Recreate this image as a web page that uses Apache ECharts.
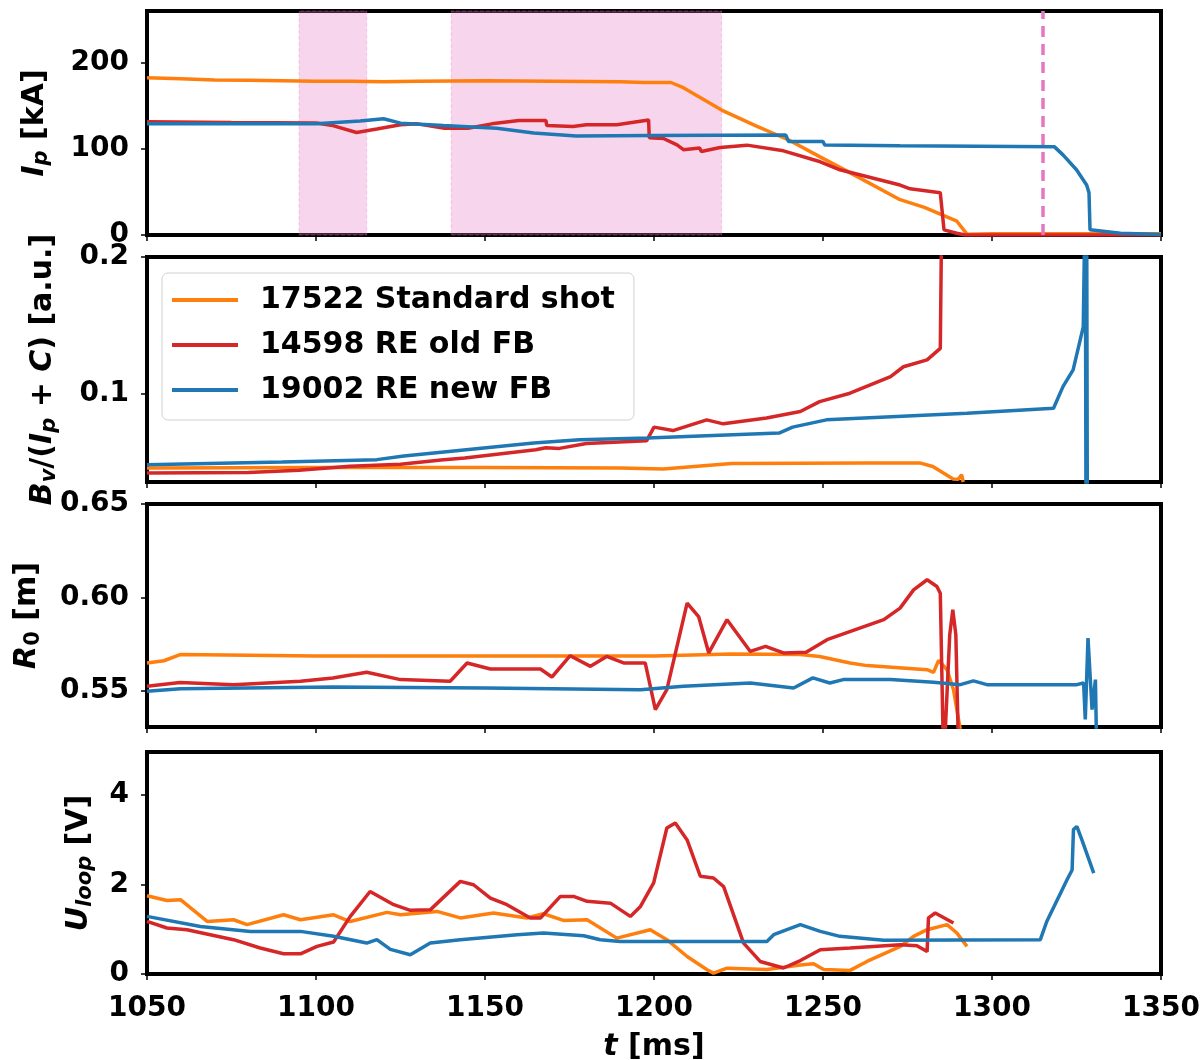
<!DOCTYPE html>
<html lang="en">
<head>
  <meta charset="UTF-8">
  <title>RE shots</title>
  <script src="https://cdn.jsdelivr.net/npm/echarts@6/dist/echarts.min.js"></script>
  <style>
    body { margin: 0; background: #fff; }
    #main { width: 1204px; height: 1060px; }
  </style>
</head>
<body>
  <div id="main"></div>
  <script>
    // time axis, ms
    var tMin = 1050, tMax = 1350, tStep = 50
    var names = ['17522 Standard shot', '14598 RE old FB', '19002 RE new FB']
    var colors = ['#ff7f0e', '#d62728', '#1f77b4']

    // shaded windows and marker in the Ip panel
    var shadeSpans = [[1095, 1115], [1140, 1220]]
    var markerT = 1315

    // y tick labels per panel
    var ipTicks = [0, 100, 200]
    var bvTicks = [0.1, 0.2]
    var r0Ticks = [0.55, 0.60, 0.65]
    var uTicks = [0, 2, 4]

    // Ip [kA]
    var ipStandard = [[1050,182.5],[1060,181.5],[1070,180],[1080,179.5],[1090,179],[1100,178.5],[1110,178.5],[1120,178],[1130,178.5],[1150,179],[1170,178.5],[1190,178],[1197,177],[1205,177],[1208.7,171],[1220,145],[1230,127],[1240,110],[1249,91],[1260,68],[1272.8,41],[1280,32],[1289.6,16],[1292.6,1],[1300,1.5],[1350,1.5]]
    var ipOldFb = [[1050,131.5],[1075,130.5],[1100,130],[1105,127],[1112,119],[1118,123],[1125,128],[1130,129],[1138,124],[1145,124],[1152,129],[1160,132.8],[1168,133],[1168.3,127],[1176,126],[1180,128],[1189,128],[1198.4,133.6],[1198.6,113],[1202.8,112],[1206.8,104.6],[1208.7,99],[1213.5,101],[1214,97],[1219.6,101.5],[1227.5,104.3],[1238.3,97.7],[1249.2,85],[1255,75.7],[1272.8,58],[1275.8,53.6],[1284.7,49],[1285.8,6],[1289.6,2],[1292,0],[1350,0]]
    var ipNewFb = [[1050,129],[1075,129],[1100,129],[1113,132.4],[1120,135],[1125,129.8],[1137.7,127],[1153.5,124],[1164.4,118.5],[1177,115],[1198.9,115.5],[1239,116],[1239.8,108.5],[1250,108.5],[1250.5,104.5],[1272.8,103.5],[1318.5,102.3],[1321,93],[1325,75.7],[1328,58],[1328.7,49],[1329,6],[1338,2],[1350,0.5]]

    // Bv/(Ip+C) [a.u.]
    var bvStandard = [[1050,0.0462],[1100,0.0465],[1150,0.0465],[1190,0.0462],[1202.7,0.0455],[1223,0.0494],[1263,0.0499],[1278.6,0.0499],[1282.5,0.0473],[1288.5,0.0382],[1290,0.038],[1291,0.0413],[1291.5,0.036]]
    var bvOldFb = [[1050,0.0426],[1080,0.043],[1095,0.0445],[1110,0.0475],[1125,0.049],[1137,0.052],[1144,0.0535],[1165,0.0595],[1168,0.061],[1172,0.0605],[1180,0.064],[1197.8,0.066],[1200,0.076],[1205.6,0.0735],[1215.6,0.0813],[1220.5,0.0784],[1233.3,0.0826],[1243.3,0.0874],[1249,0.0946],[1258,0.1007],[1270,0.1128],[1273.8,0.12],[1280.8,0.125],[1284.7,0.1334],[1285.2,0.25]]
    var bvNewFb = [[1050,0.0486],[1090,0.0505],[1118,0.0523],[1126,0.055],[1164.4,0.0644],[1178,0.0668],[1198,0.068],[1237,0.0717],[1241,0.076],[1251,0.0813],[1292.6,0.0862],[1318.2,0.0898],[1321,0.1055],[1324,0.1177],[1327,0.149],[1327.6,0.25],[1327.8,0.02],[1328,0.25],[1328.2,0.02]]

    // R0 [m]
    var r0Standard = [[1050,0.5648],[1055,0.566],[1059.8,0.5693],[1080,0.569],[1100,0.5685],[1150,0.5685],[1200,0.5685],[1223,0.5696],[1243.3,0.5693],[1249,0.5683],[1258,0.5648],[1263,0.5634],[1280.8,0.5612],[1282.7,0.5598],[1284.2,0.5662],[1286.7,0.5612],[1288.6,0.5505],[1291,0.525]]
    var r0OldFb = [[1050,0.5523],[1059.8,0.5544],[1075.6,0.5532],[1095.4,0.555],[1105,0.5568],[1115,0.5598],[1125,0.5559],[1139.7,0.555],[1144.7,0.5648],[1151.6,0.5616],[1166.4,0.5616],[1169.8,0.5573],[1175.2,0.5687],[1181.2,0.563],[1186,0.5683],[1191,0.5648],[1197.4,0.5648],[1200.4,0.5398],[1203.8,0.5505],[1209.8,0.5969],[1213.2,0.5897],[1216.2,0.5702],[1221.6,0.588],[1228.5,0.571],[1233,0.5737],[1238.3,0.5702],[1245,0.5705],[1251.2,0.5773],[1268,0.588],[1272.8,0.5942],[1276.8,0.604],[1280.8,0.6094],[1283.7,0.6058],[1284.7,0.6022],[1285.7,0.51],[1287.5,0.58],[1288.4,0.5933],[1289.3,0.58],[1290.2,0.51]]
    var r0NewFb = [[1050,0.5496],[1059.9,0.551],[1105,0.552],[1150,0.5514],[1196,0.5505],[1208.7,0.5523],[1228.5,0.5541],[1241.3,0.5514],[1247,0.5568],[1252,0.5541],[1256,0.5559],[1270,0.5559],[1282.7,0.5545],[1290.6,0.5532],[1294.5,0.5552],[1298.5,0.5532],[1325.1,0.5532],[1327.1,0.5541],[1327.6,0.5345],[1328.4,0.5782],[1329.6,0.5398],[1330.6,0.5559],[1330.9,0.525]]

    // Uloop [V]
    var uStandard = [[1050,1.746],[1055.9,1.64],[1059.9,1.657],[1067.8,1.173],[1075.6,1.21],[1079.6,1.1],[1090.4,1.32],[1095.4,1.21],[1105.2,1.32],[1110.1,1.17],[1121,1.374],[1125,1.32],[1135.8,1.396],[1142.7,1.25],[1152.5,1.36],[1162.4,1.25],[1167.3,1.344],[1173.2,1.195],[1180.2,1.21],[1189,0.8],[1198.9,0.988],[1203.8,0.765],[1209.8,0.39],[1215.7,0.096],[1217.6,0.02],[1221.6,0.13],[1233.4,0.1],[1243.3,0.2],[1247.2,0.23],[1250.2,0.1],[1258,0.08],[1263,0.28],[1272.9,0.615],[1276.8,0.84],[1280.8,0.988],[1286.7,1.1],[1289.6,0.914],[1292.6,0.615]]
    var uOldFb = [[1050,1.173],[1055.9,1.025],[1061.8,0.988],[1075.6,0.765],[1083.5,0.58],[1090.4,0.453],[1095.4,0.45],[1100.3,0.615],[1105.2,0.713],[1110.1,1.28],[1116,1.84],[1123,1.545],[1127.9,1.42],[1133.8,1.43],[1142.7,2.065],[1146.6,1.99],[1151.6,1.69],[1156.5,1.545],[1163.4,1.25],[1166.4,1.25],[1172.3,1.73],[1176.2,1.73],[1180.2,1.62],[1187.1,1.58],[1193,1.284],[1196,1.507],[1199.9,2.03],[1203.8,3.255],[1206.3,3.367],[1209.8,2.99],[1213.7,2.18],[1217.6,2.14],[1220.6,1.95],[1226.5,0.69],[1231.4,0.28],[1238.3,0.134],[1243.3,0.3],[1249.2,0.54],[1258,0.58],[1272.9,0.65],[1277.8,0.63],[1280.8,0.5],[1281.2,1.25],[1283.2,1.36],[1288.6,1.137]]
    var uNewFb = [[1050,1.285],[1065.8,1.06],[1080.6,0.95],[1095.4,0.95],[1105.2,0.84],[1115,0.69],[1118,0.765],[1122,0.55],[1127.9,0.43],[1133.8,0.69],[1142.7,0.765],[1159.5,0.876],[1167.3,0.914],[1179.2,0.854],[1184.1,0.765],[1190,0.727],[1233.4,0.727],[1235.4,0.876],[1243.3,1.1],[1249.2,0.95],[1255,0.84],[1268,0.75],[1314.3,0.765],[1316.2,1.17],[1322.2,2.1],[1323.7,2.32],[1324.1,3.22],[1325.1,3.29],[1326.6,2.99],[1330.1,2.25]]

    var font = 'DejaVu Sans'
    var panels = [
      { top: 11,  height: 224, min: 0,      max: 260,  ticks: ipTicks, dec: 0, gap: 95,
        name: '{it|I}{subit|p} [kA]', data: [ipStandard, ipOldFb, ipNewFb] },
      { top: 257, height: 225, min: 0.036,  max: 0.2,  ticks: bvTicks, dec: 1, gap: 87,
        name: '{it|B}{subit|v}/({it|I}{subit|p} + {it|C}) [a.u.]', data: [bvStandard, bvOldFb, bvNewFb] },
      { top: 504, height: 223, min: 0.5305, max: 0.65, ticks: r0Ticks, dec: 2, gap: 103,
        name: '{it|R}{sub|0} [m]', data: [r0Standard, r0OldFb, r0NewFb] },
      { top: 752, height: 222, min: 0,      max: 4.95, ticks: uTicks, dec: 0, gap: 51,
        name: '{it|U}{subit|loop} [V]', data: [uStandard, uOldFb, uNewFb] }
    ]

    var nameStyle = {
      fontFamily: font, fontSize: 30, fontWeight: 'bold', color: '#000', lineHeight: 34,
      rich: {
        it: { fontFamily: font, fontSize: 30, fontWeight: 'bold', fontStyle: 'italic', color: '#000', lineHeight: 34 },
        sub: { fontFamily: font, fontSize: 21, fontWeight: 'bold', color: '#000', lineHeight: 16, verticalAlign: 'bottom' },
        subit: { fontFamily: font, fontSize: 21, fontWeight: 'bold', fontStyle: 'italic', color: '#000', lineHeight: 16, verticalAlign: 'bottom' }
      }
    }

    var grid = [], xAxis = [], yAxis = [], series = []
    panels.forEach(function (p, i) {
      var last = i === panels.length - 1
      grid.push({ left: 147, right: 43, top: p.top, height: p.height, show: true,
        outerBoundsMode: 'none', containLabel: false,
        borderColor: '#000', borderWidth: 4, backgroundColor: 'transparent' })
      xAxis.push({
        type: 'value', gridIndex: i, min: tMin, max: tMax, interval: tStep,
        axisLine: { show: false }, splitLine: { show: false },
        axisTick: { show: true, length: 6, lineStyle: { color: '#000', width: 1.5 } },
        axisLabel: { show: last, margin: 20, fontFamily: font, fontSize: 28, fontWeight: 'bold', color: '#000', lineHeight: 30,
          formatter: function (v) { return String(v) } },
        name: last ? '{it|t} [ms]' : '', nameLocation: 'middle', nameGap: 56, nameTextStyle: nameStyle
      })
      yAxis.push({
        type: 'value', gridIndex: i, min: p.min, max: p.max,
        axisLine: { show: false }, splitLine: { show: false },
        axisTick: { show: true, length: 6, customValues: p.ticks, lineStyle: { color: '#000', width: 1.5 } },
        axisLabel: { customValues: p.ticks, margin: 18, fontFamily: font, fontSize: 28, fontWeight: 'bold', color: '#000',
          formatter: function (v) { return v.toFixed(p.dec) } },
        name: p.name, nameLocation: 'middle', nameRotate: 90, nameGap: p.gap, nameTextStyle: nameStyle
      })
      p.data.forEach(function (d, k) {
        series.push({
          name: names[k], type: 'line', xAxisIndex: i, yAxisIndex: i, data: d,
          showSymbol: false, symbol: 'none', clip: true, z: 3 + k,
          color: colors[k], lineStyle: { width: 3.5, color: colors[k] }
        })
      })
    })

    // shaded windows + dashed marker, drawn under the traces
    series.push({
      type: 'line', xAxisIndex: 0, yAxisIndex: 0, data: [], z: 1, silent: true,
      markArea: {
        silent: true,
        itemStyle: { color: 'rgba(227,119,194,0.3)', borderColor: 'rgba(227,119,194,0.35)', borderWidth: 1, borderType: 'dashed' },
        data: shadeSpans.map(function (s) { return [{ xAxis: s[0] }, { xAxis: s[1] }] })
      },
      markLine: {
        silent: true, symbol: ['none', 'none'], label: { show: false },
        lineStyle: { color: '#e377c2', width: 3.5, type: [11, 7] },
        data: [{ xAxis: markerT }]
      }
    })

    var myChart = echarts.init(document.getElementById('main'))
    myChart.setOption({
      animation: false,
      grid: grid,
      xAxis: xAxis,
      yAxis: yAxis,
      legend: {
        data: names, orient: 'vertical', left: 162, top: 273,
        padding: [12, 19, 15, 10], itemGap: 15, itemWidth: 66, itemHeight: 4, icon: 'rect',
        backgroundColor: 'rgba(255,255,255,0.8)', borderColor: '#d0d0d0', borderWidth: 1, borderRadius: 6,
        textStyle: { fontFamily: font, fontSize: 30, fontWeight: 'bold', color: '#000', lineHeight: 30, padding: [0, 0, 0, 17] }
      },
      series: series
    })
  </script>
</body>
</html>
